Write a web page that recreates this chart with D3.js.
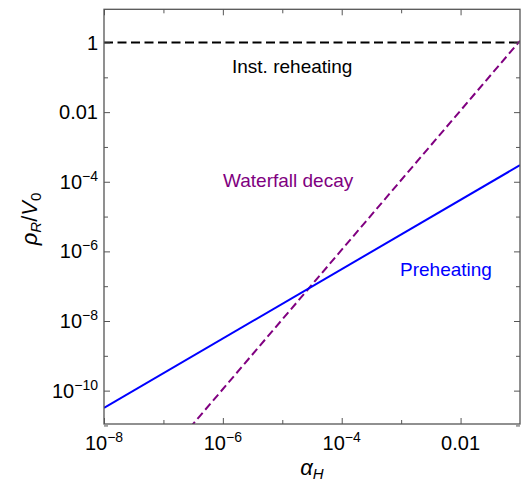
<!DOCTYPE html>
<html>
<head>
<meta charset="utf-8">
<script src="https://cdn.jsdelivr.net/npm/d3@7"></script>
<style>
  body { margin: 0; background: #fff; }
  text { font-family: "Liberation Sans", Arial, sans-serif; }
</style>
</head>
<body>
<svg width="531" height="491"></svg>
<script>
// values
var alphaH = [1e-8, 0.1];
var preheating = [3.2e-11, 3.0e-4];
var waterfall = [1.1e-14, 1.12];
var instReheating = [1, 1];

var xMajor = [1e-8, 1e-6, 1e-4, 1e-2];
var xMajorLabels = [["10", "−8"], ["10", "−6"], ["10", "−4"], ["0.01", ""]];
var xMinor = [1e-7, 1e-5, 1e-3];
var yMajor = [1, 1e-2, 1e-4, 1e-6, 1e-8, 1e-10];
var yMajorLabels = [["1", ""], ["0.01", ""], ["10", "−4"], ["10", "−6"], ["10", "−8"], ["10", "−10"]];
var yMinor = [1e-1, 1e-3, 1e-5, 1e-7, 1e-9, 1e-11];

var svg = d3.select("svg"),
    plotLeft = 104, plotRight = 520, plotTop = 9.3, plotBottom = 424;

var x = d3.scaleLog().domain([1e-8, 0.1]).range([plotLeft, plotRight]);
var y = d3.scaleLog().domain([1.1e-11, 9]).range([plotBottom, plotTop]);

var frameColor = "#555";
var fs = 19;

svg.append("clipPath").attr("id", "clip")
  .append("rect").attr("x", plotLeft).attr("y", plotTop)
    .attr("width", plotRight - plotLeft).attr("height", plotBottom - plotTop);

var line = d3.line()
    .x(function(d) { return x(d[0]); })
    .y(function(d) { return y(d[1]); });

var plot = svg.append("g").attr("clip-path", "url(#clip)");

plot.append("path")
    .datum(d3.zip(alphaH, instReheating))
    .attr("d", line)
    .attr("fill", "none").attr("stroke", "#000")
    .attr("stroke-width", 2).attr("stroke-dasharray", "9,4.5");

plot.append("path")
    .datum(d3.zip(alphaH, waterfall))
    .attr("d", line)
    .attr("fill", "none").attr("stroke", "#800080")
    .attr("stroke-width", 2).attr("stroke-dasharray", "8,4");

plot.append("path")
    .datum(d3.zip(alphaH, preheating))
    .attr("d", line)
    .attr("fill", "none").attr("stroke", "#0000ff")
    .attr("stroke-width", 2);

// frame ticks (inward)
function ticks(g, axis) {
  g.call(axis);
  g.select(".domain").remove();
  g.selectAll(".tick line").attr("stroke", frameColor);
  g.selectAll(".tick text").remove();
}
svg.append("g").attr("transform", "translate(0," + plotBottom + ")")
    .call(ticks, d3.axisBottom(x).tickValues(xMajor).tickSize(-6));
svg.append("g").attr("transform", "translate(0," + plotBottom + ")")
    .call(ticks, d3.axisBottom(x).tickValues(xMinor).tickSize(-4));
svg.append("g").attr("transform", "translate(0," + plotTop + ")")
    .call(ticks, d3.axisTop(x).tickValues(xMajor).tickSize(-6));
svg.append("g").attr("transform", "translate(0," + plotTop + ")")
    .call(ticks, d3.axisTop(x).tickValues(xMinor).tickSize(-4));
svg.append("g").attr("transform", "translate(" + plotLeft + ",0)")
    .call(ticks, d3.axisLeft(y).tickValues(yMajor).tickSize(-6));
svg.append("g").attr("transform", "translate(" + plotLeft + ",0)")
    .call(ticks, d3.axisLeft(y).tickValues(yMinor).tickSize(-4));
svg.append("g").attr("transform", "translate(" + plotRight + ",0)")
    .call(ticks, d3.axisRight(y).tickValues(yMajor).tickSize(-6));
svg.append("g").attr("transform", "translate(" + plotRight + ",0)")
    .call(ticks, d3.axisRight(y).tickValues(yMinor).tickSize(-4));

svg.append("rect")
    .attr("x", plotLeft).attr("y", plotTop)
    .attr("width", plotRight - plotLeft).attr("height", plotBottom - plotTop)
    .attr("fill", "none").attr("stroke", frameColor).attr("stroke-width", 1.3);

// tick labels
function label(t, parts) {
  t.append("tspan").text(parts[0]);
  if (parts[1]) t.append("tspan").attr("dy", -8).attr("font-size", 14).text(parts[1]);
}
xMajor.forEach(function(v, i) {
  var t = svg.append("text")
      .attr("x", x(v)).attr("y", plotBottom + 26)
      .attr("text-anchor", "middle").attr("font-size", 20);
  label(t, xMajorLabels[i]);
});
yMajor.forEach(function(v, i) {
  var t = svg.append("text")
      .attr("x", plotLeft - 6).attr("y", y(v) + 7)
      .attr("text-anchor", "end").attr("font-size", 20);
  label(t, yMajorLabels[i]);
});

// axis titles
var xt = svg.append("text")
    .attr("x", 312).attr("y", 475)
    .attr("text-anchor", "middle").attr("font-size", 22);
xt.append("tspan").attr("font-style", "italic").text("α");
xt.append("tspan").attr("font-style", "italic").attr("font-size", 15).attr("dy", 4).text("H");

var yt = svg.append("text")
    .attr("transform", "translate(37,219) rotate(-90)")
    .attr("text-anchor", "middle").attr("font-size", 22);
yt.append("tspan").attr("font-style", "italic").text("ρ");
yt.append("tspan").attr("font-style", "italic").attr("font-size", 15).attr("dy", 4).text("R");
yt.append("tspan").attr("dy", -4).text("/");
yt.append("tspan").attr("font-style", "italic").text("V");
yt.append("tspan").attr("font-size", 15).attr("dy", 4).text("0");

// curve labels
svg.append("text").attr("x", 232).attr("y", 73)
    .attr("font-size", fs).attr("fill", "#000").text("Inst. reheating");
svg.append("text").attr("x", 223).attr("y", 187)
    .attr("font-size", fs).attr("fill", "#800080").text("Waterfall decay");
svg.append("text").attr("x", 400).attr("y", 276)
    .attr("font-size", fs).attr("fill", "#0000ff").text("Preheating");
</script>
</body>
</html>
